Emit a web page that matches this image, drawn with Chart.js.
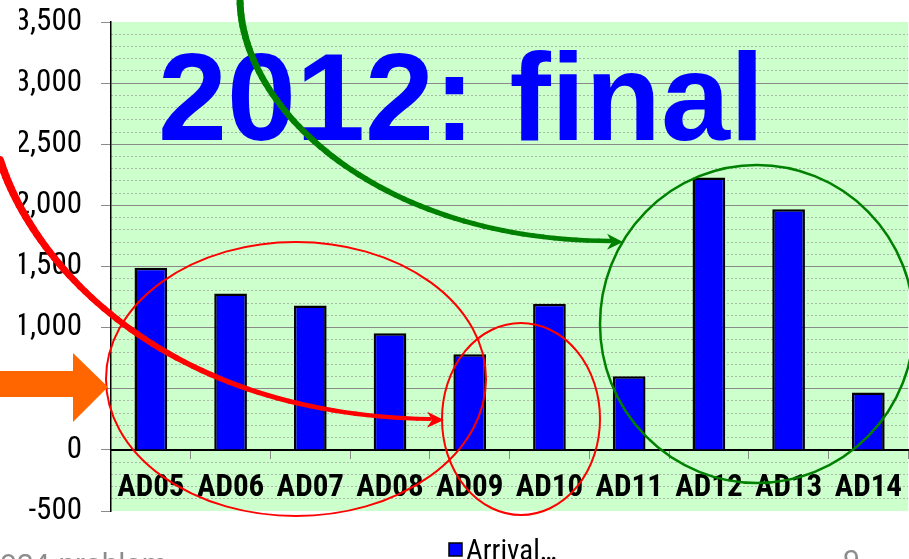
<!DOCTYPE html>
<html>
<head>
<meta charset="utf-8">
<title>Arrivals 2012</title>
<script src="https://cdn.jsdelivr.net/npm/chart.js@4.4.1/dist/chart.umd.min.js"></script>
<style>
  html, body { margin: 0; padding: 0; background: #fff; overflow: hidden; }
  #wrap { position: absolute; left: 0; top: 0; width: 914px; height: 559px; }
</style>
</head>
<body>
<div id="wrap"><canvas id="myChart"></canvas></div>
<script>
// data
const categories = ['AD05', 'AD06', 'AD07', 'AD08', 'AD09', 'AD10', 'AD11', 'AD12', 'AD13', 'AD14'];
const arrivals = [1490, 1280, 1182, 955, 783, 1195, 602, 2228, 1969, 469];
const yMin = -500;
const yMax = 3500;
const majorStep = 500;
const minorStep = 100;

const seriesName = 'Arrival\u2026';
const slideTitle = '2012: final';
const footerLeft = '024 problem';
const pageNumber = '9';

const ctx = document.getElementById('myChart');
const narrow = 'Roboto Condensed';

// light green plot background
const plotBackground = {
  id: 'plotBackground',
  beforeDraw(chart) {
    const a = chart.chartArea;
    const c = chart.ctx;
    c.save();
    c.fillStyle = '#ccffcc';
    c.fillRect(a.left, a.top, a.right - a.left, a.bottom - a.top);
    c.restore();
  }
};

function strokeEllipse(c, cx, cy, rx, ry, color, width) {
  c.beginPath();
  c.ellipse(cx, cy, rx, ry, 0, 0, Math.PI * 2);
  c.strokeStyle = color;
  c.lineWidth = width;
  c.stroke();
}

function bez(p0, p1, p2, p3, t) {
  const u = 1 - t;
  return {
    x: u*u*u*p0.x + 3*u*u*t*p1.x + 3*u*t*t*p2.x + t*t*t*p3.x,
    y: u*u*u*p0.y + 3*u*u*t*p1.y + 3*u*t*t*p2.y + t*t*t*p3.y
  };
}

// curve that gets thinner towards the head
function taperedCurve(c, p0, p1, p2, p3, w0, w1, color) {
  const n = 60;
  c.strokeStyle = color;
  c.lineCap = 'round';
  let prev = p0;
  for (let i = 1; i <= n; i++) {
    const t = i / n;
    const pt = bez(p0, p1, p2, p3, t);
    c.beginPath();
    c.moveTo(prev.x, prev.y);
    c.lineTo(pt.x, pt.y);
    c.lineWidth = w0 + (w1 - w0) * t;
    c.stroke();
    prev = pt;
  }
}

function arrowHead(c, tip, from, len, half, color) {
  const ang = Math.atan2(tip.y - from.y, tip.x - from.x);
  c.save();
  c.translate(tip.x, tip.y);
  c.rotate(ang);
  c.beginPath();
  c.moveTo(0, 0);
  c.lineTo(-len, -half);
  c.lineTo(-len * 0.7, 0);
  c.lineTo(-len, half);
  c.closePath();
  c.fillStyle = color;
  c.fill();
  c.restore();
}

const overlay = {
  id: 'overlay',
  afterDraw(chart) {
    const c = chart.ctx;
    c.save();

    // big title
    c.font = 'bold 124px "Liberation Sans"';
    c.fillStyle = '#0000ff';
    c.textBaseline = 'alphabetic';
    c.textAlign = 'left';
    c.fillText(slideTitle, 158, 140);

    // circled groups
    strokeEllipse(c, 296, 379, 190, 137, '#ff0000', 2);
    strokeEllipse(c, 521, 419, 79, 96, '#ff0000', 2);
    strokeEllipse(c, 757, 324, 157, 159, '#008000', 2.5);

    // red pointer
    const r0 = {x: 0, y: 160}, r1 = {x: 35, y: 270}, r2 = {x: 170, y: 415}, r3 = {x: 430, y: 419};
    taperedCurve(c, r0, r1, r2, r3, 8, 4, '#ff0000');
    arrowHead(c, {x: 444, y: 420}, r2, 17, 8, '#ff0000');

    // green pointer
    const g0 = {x: 240, y: -2}, g1 = {x: 240, y: 110}, g2 = {x: 380, y: 240}, g3 = {x: 610, y: 241};
    taperedCurve(c, g0, g1, g2, g3, 7, 4.5, '#008000');
    arrowHead(c, {x: 623, y: 242}, g2, 16, 8, '#008000');

    // orange block arrow
    c.beginPath();
    c.moveTo(0, 371);
    c.lineTo(73, 371);
    c.lineTo(73, 353);
    c.lineTo(108, 387);
    c.lineTo(73, 422);
    c.lineTo(73, 397);
    c.lineTo(0, 397);
    c.closePath();
    c.fillStyle = '#ff6600';
    c.fill();

    // legend
    const ds = chart.data.datasets[0];
    c.fillStyle = ds.backgroundColor;
    c.fillRect(449, 543, 13, 13);
    c.strokeStyle = '#000';
    c.lineWidth = 1.5;
    c.strokeRect(449, 543, 13, 13);
    c.font = '29px "' + narrow + '"';
    c.fillStyle = '#000';
    c.fillText(ds.label, 466, 560);

    // slide footer
    c.font = '30px "Liberation Sans"';
    c.fillStyle = '#8c8c8c';
    c.fillText(footerLeft, 0, 574);
    c.fillText(pageNumber, 843, 570);

    c.restore();
  }
};

new Chart(ctx, {
  type: 'bar',
  data: {
    labels: categories,
    datasets: [{
      label: seriesName,
      data: arrivals,
      backgroundColor: '#0000ff',
      borderColor: '#000000',
      borderWidth: 2.5,
      barPercentage: 0.41,
      categoryPercentage: 1
    }]
  },
  options: {
    responsive: true,
    maintainAspectRatio: false,
    animation: false,
    layout: { padding: { left: 19, top: 22, right: 0, bottom: 48 } },
    plugins: {
      legend: { display: false },
      tooltip: { enabled: false }
    },
    scales: {
      x: {
        position: { y: 0 },
        grid: { display: true, drawOnChartArea: false, drawTicks: true, tickLength: 8, tickColor: '#888', offset: true },
        border: { display: true, color: '#000', width: 2 },
        ticks: {
          color: '#000',
          font: { family: narrow, size: 31, weight: 'bold' },
          padding: 12,
          maxRotation: 0,
          autoSkip: false
        }
      },
      y: {
        min: yMin,
        max: yMax,
        afterFit: scale => {
          scale.width = 92;
          scale.paddingTop = 18;
          scale.paddingBottom = 18;
        },
        ticks: {
          stepSize: majorStep,
          color: '#000',
          font: { family: narrow, size: 31 },
          padding: 19,
          callback: v => v.toLocaleString('en-US')
        },
        grid: {
          color: c => (c.tick.value === yMin || c.tick.value === yMax) ? 'rgba(0,0,0,0)' : '#8a8a8a',
          lineWidth: 1,
          tickLength: 10,
          tickColor: '#8a8a8a'
        },
        border: { color: '#000', width: 1.5 }
      },
      yMinor: {
        position: 'right',
        min: yMin,
        max: yMax,
        ticks: { display: false, stepSize: minorStep },
        grid: {
          drawTicks: false,
          color: c => c.tick.value % majorStep === 0 ? 'rgba(0,0,0,0)' : '#a9b9a9',
          lineWidth: 1
        },
        border: { display: false, dash: [2, 2] }
      }
    }
  },
  plugins: [plotBackground, overlay]
});
</script>
</body>
</html>
